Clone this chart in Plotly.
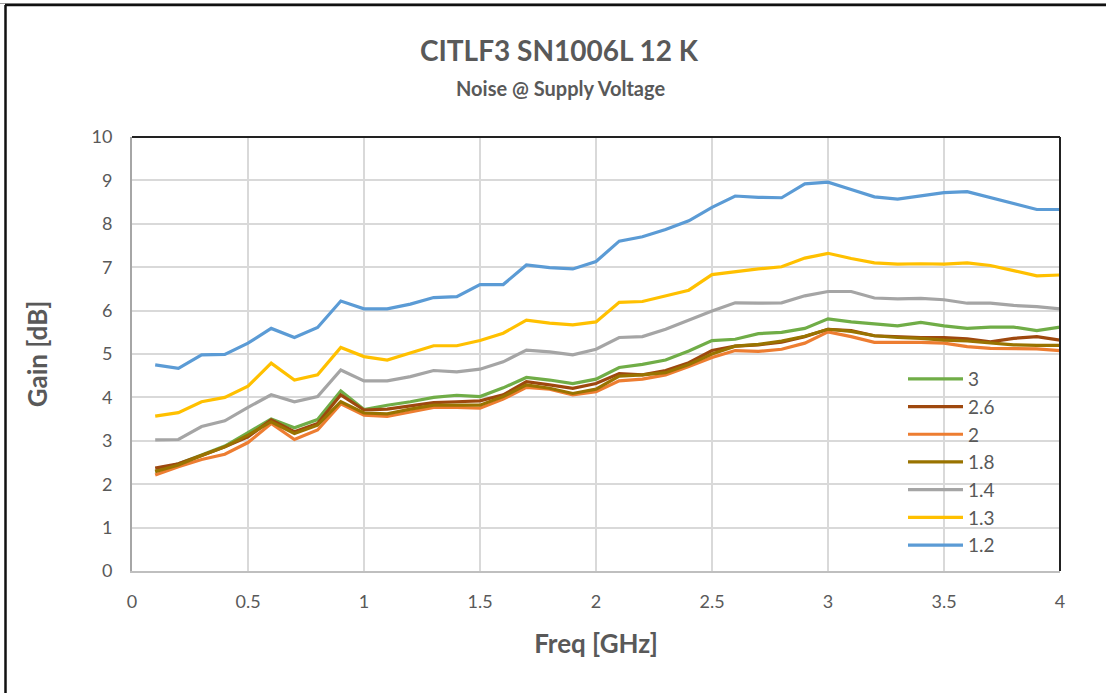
import plotly.graph_objects as go

freq = [0.1, 0.2, 0.3, 0.4, 0.5, 0.6, 0.7, 0.8, 0.9, 1.0,
        1.1, 1.2, 1.3, 1.4, 1.5, 1.6, 1.7, 1.8, 1.9, 2.0,
        2.1, 2.2, 2.3, 2.4, 2.5, 2.6, 2.7, 2.8, 2.9, 3.0,
        3.1, 3.2, 3.3, 3.4, 3.5, 3.6, 3.7, 3.8, 3.9, 4.0]

gain_3 = [2.30, 2.47, 2.67, 2.88, 3.19, 3.50, 3.30, 3.49, 4.15, 3.72,
          3.82, 3.90, 4.00, 4.05, 4.02, 4.22, 4.46, 4.40, 4.32, 4.42,
          4.69, 4.76, 4.86, 5.07, 5.31, 5.34, 5.47, 5.50, 5.59, 5.81,
          5.74, 5.69, 5.65, 5.73, 5.65, 5.59, 5.62, 5.62, 5.54, 5.62]
gain_2_6 = [2.37, 2.47, 2.66, 2.86, 3.09, 3.48, 3.21, 3.40, 4.06, 3.71,
            3.73, 3.80, 3.88, 3.90, 3.92, 4.06, 4.36, 4.29, 4.21, 4.32,
            4.55, 4.52, 4.62, 4.80, 5.08, 5.18, 5.21, 5.27, 5.40, 5.57,
            5.54, 5.42, 5.40, 5.38, 5.38, 5.35, 5.28, 5.36, 5.40, 5.32]
gain_2 = [2.21, 2.40, 2.57, 2.69, 2.96, 3.40, 3.03, 3.25, 3.85, 3.59,
          3.56, 3.67, 3.77, 3.77, 3.75, 3.96, 4.23, 4.19, 4.06, 4.13,
          4.38, 4.42, 4.52, 4.71, 4.92, 5.08, 5.06, 5.11, 5.25, 5.51,
          5.40, 5.27, 5.27, 5.27, 5.25, 5.17, 5.13, 5.12, 5.12, 5.08]
gain_1_8 = [2.29, 2.44, 2.66, 2.86, 3.13, 3.44, 3.17, 3.36, 3.90, 3.64,
            3.62, 3.73, 3.82, 3.82, 3.82, 4.02, 4.29, 4.21, 4.09, 4.19,
            4.49, 4.52, 4.57, 4.76, 5.00, 5.18, 5.22, 5.30, 5.41, 5.57,
            5.52, 5.42, 5.38, 5.36, 5.32, 5.30, 5.25, 5.21, 5.20, 5.20]
gain_1_4 = [3.02, 3.03, 3.33, 3.46, 3.77, 4.06, 3.90, 4.02, 4.63, 4.38,
            4.38, 4.48, 4.62, 4.59, 4.65, 4.82, 5.09, 5.05, 4.98, 5.11,
            5.38, 5.40, 5.57, 5.78, 5.99, 6.18, 6.17, 6.18, 6.34, 6.44,
            6.44, 6.29, 6.27, 6.28, 6.25, 6.17, 6.17, 6.12, 6.09, 6.04]
gain_1_3 = [3.57, 3.65, 3.90, 4.00, 4.26, 4.79, 4.40, 4.52, 5.15, 4.94,
            4.86, 5.03, 5.19, 5.19, 5.31, 5.48, 5.78, 5.71, 5.67, 5.74,
            6.19, 6.21, 6.34, 6.47, 6.83, 6.90, 6.96, 7.01, 7.21, 7.32,
            7.20, 7.10, 7.07, 7.08, 7.07, 7.10, 7.04, 6.92, 6.80, 6.82]
gain_1_2 = [4.75, 4.67, 4.98, 4.99, 5.25, 5.59, 5.38, 5.61, 6.22, 6.04,
            6.04, 6.15, 6.30, 6.32, 6.60, 6.60, 7.05, 6.99, 6.96, 7.13,
            7.60, 7.70, 7.87, 8.07, 8.38, 8.64, 8.61, 8.60, 8.92, 8.96,
            8.79, 8.62, 8.57, 8.65, 8.72, 8.74, 8.60, 8.46, 8.33, 8.33]

series_names = ["3", "2.6", "2", "1.8", "1.4", "1.3", "1.2"]
series_values = [gain_3, gain_2_6, gain_2, gain_1_8, gain_1_4, gain_1_3, gain_1_2]
series_colors = ["#70AD47", "#9E480E", "#ED7D31", "#997300", "#A5A5A5", "#FFC000", "#5B9BD5"]

x_ticks = [0, 0.5, 1, 1.5, 2, 2.5, 3, 3.5, 4]
y_ticks = [0, 1, 2, 3, 4, 5, 6, 7, 8, 9, 10]

FONT = "Lato, 'Open Sans', sans-serif"
TXT = "#595959"

fig = go.Figure()
for name, vals, col in zip(series_names, series_values, series_colors):
    fig.add_trace(go.Scatter(x=freq, y=vals, mode="lines", name=name,
                             line=dict(color=col, width=3.2)))

W, H = 1106, 693
L, R, T, B = 132, 1060, 137, 571

def px(xp):
    return (xp - L) / (R - L)

def py(yp):
    return (B - yp) / (B - T)

fig.update_layout(
    width=W, height=H,
    margin=dict(l=L, r=W - R, t=T, b=H - B),
    paper_bgcolor="white", plot_bgcolor="white",
    font=dict(family=FONT, color=TXT, size=18),
    showlegend=True,
    legend=dict(x=px(903), y=py(360), xanchor="left", yanchor="top",
                bgcolor="rgba(0,0,0,0)", font=dict(size=19, color=TXT),
                traceorder="normal", tracegroupgap=0, itemwidth=55),
    xaxis=dict(range=[0, 4], tickvals=x_ticks, ticktext=[str(t) for t in x_ticks],
               showgrid=True, gridcolor="#D9D9D9", gridwidth=1.5,
               showline=True, linecolor="#BFBFBF", linewidth=2,
               zeroline=False, ticks="", ticklabelstandoff=13,
               tickfont=dict(size=18, color=TXT),
               title=dict(text="<b>Freq [GHz]</b>", font=dict(size=26, color=TXT), standoff=24)),
    yaxis=dict(range=[0, 10], tickvals=y_ticks,
               showgrid=True, gridcolor="#D9D9D9", gridwidth=1.5,
               showline=True, linecolor="#A6A6A6", linewidth=2,
               zeroline=False, ticks="", ticklabelstandoff=14,
               tickfont=dict(size=18, color=TXT),
               title=dict(text="<b>Gain [dB]</b>", font=dict(size=26, color=TXT), standoff=36)),
)

# title and subtitle
fig.add_annotation(text="<b>CITLF3 SN1006L 12 K</b>", xref="paper", yref="paper",
                   x=px(559), y=py(50), xanchor="center", yanchor="middle",
                   showarrow=False, font=dict(size=28, color=TXT, family=FONT))
fig.add_annotation(text="<b>Noise @ Supply Voltage</b>", xref="paper", yref="paper",
                   x=px(560), y=py(88), xanchor="center", yanchor="middle",
                   showarrow=False, font=dict(size=20, color=TXT, family=FONT))

# black top/right plot edges
fig.add_shape(type="line", xref="paper", yref="paper", x0=0, x1=1, y0=1, y1=1,
              line=dict(color="#222222", width=2))
fig.add_shape(type="line", xref="paper", yref="paper", x0=1, x1=1, y0=0, y1=1,
              line=dict(color="#222222", width=2))
# outer frame (top and left edges only)
fig.add_shape(type="line", xref="paper", yref="paper",
              x0=px(0), x1=px(1106), y0=py(3.5), y1=py(3.5),
              line=dict(color="#A0A0A0", width=1))
fig.add_shape(type="line", xref="paper", yref="paper",
              x0=px(5), x1=px(1106), y0=py(5), y1=py(5),
              line=dict(color="#111111", width=2.5))
fig.add_shape(type="line", xref="paper", yref="paper",
              x0=px(5.5), x1=px(5.5), y0=py(5), y1=py(693),
              line=dict(color="#111111", width=2.5))

fig.write_html("out.html", config={"displayModeBar": False},
               post_script="document.body.style.margin='0px';document.body.style.overflow='hidden';")
